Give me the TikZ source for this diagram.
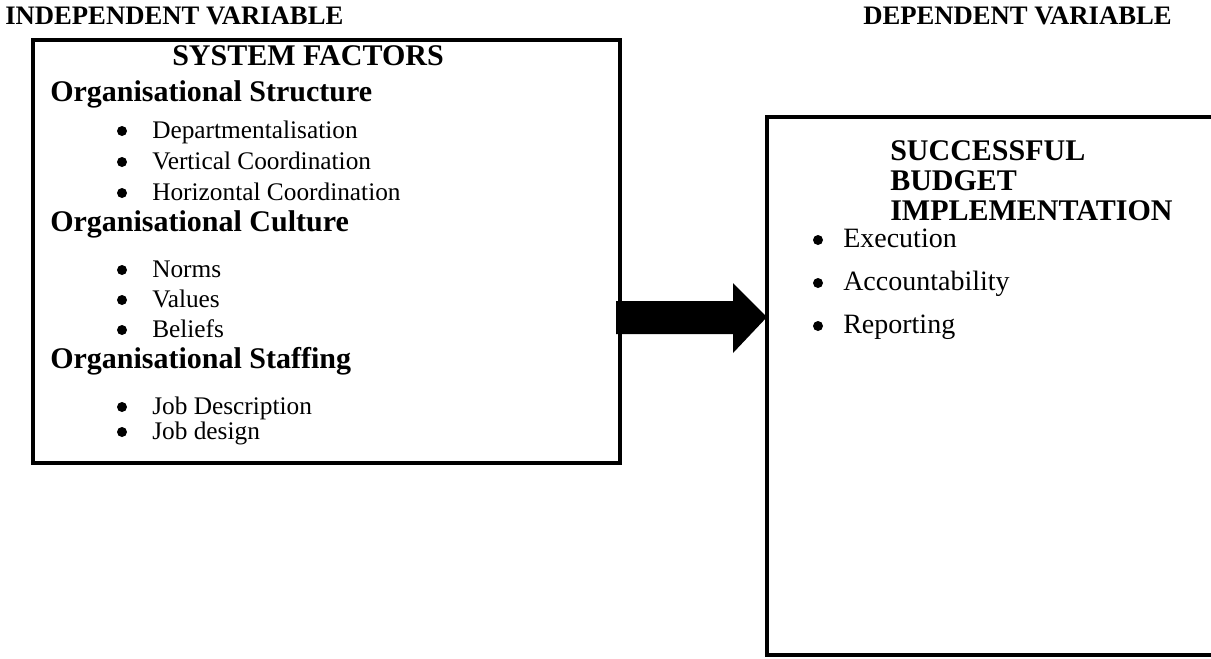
\documentclass[tikz,border=0pt]{standalone}
\usepackage{fontspec}
\setmainfont{Liberation Serif}
\begin{document}
\begin{tikzpicture}[x=0.75pt,y=-0.75pt,
  frame/.style={draw=black,line width=3pt},
  ttl/.style={anchor=base west,inner sep=0pt,font=\fontsize{20}{24}\selectfont\bfseries},
  hdr/.style={anchor=base west,inner sep=0pt,font=\fontsize{22.5}{27}\selectfont\bfseries},
  itm/.style={anchor=base west,inner sep=0pt,font=\fontsize{19}{23}\selectfont},
  itmb/.style={anchor=base west,inner sep=0pt,font=\fontsize{21}{25}\selectfont},
  bul/.style={circle,fill=black,inner sep=0pt,minimum size=7.5pt}]
\useasboundingbox (0,0) rectangle (1211,658);
% titles
\node[ttl] (iv) at (5,24) {INDEPENDENT VARIABLE};
\node[ttl] (dv) at (863,24) {DEPENDENT VARIABLE};
% left box
\draw[frame] (33,40) rectangle (620,463);
\coordinate (lbr) at (616,317);
\node[hdr,anchor=base] (sf) at (308,65) {SYSTEM FACTORS};
\node[hdr] (os) at (50,101) {Organisational Structure};
\node[bul] (b1) at (122,131) {}; \node[itm] (t1) at (152,138) {Departmentalisation};
\node[bul] (b2) at (122,162) {}; \node[itm] (t2) at (152,169) {Vertical Coordination};
\node[bul] (b3) at (122,193) {}; \node[itm] (t3) at (152,200) {Horizontal Coordination};
\node[hdr] (oc) at (50,231) {Organisational Culture};
\node[bul] (b4) at (122,270) {}; \node[itm] (t4) at (152,277) {Norms};
\node[bul] (b5) at (122,300) {}; \node[itm] (t5) at (152,307) {Values};
\node[bul] (b6) at (122,330) {}; \node[itm] (t6) at (152,337) {Beliefs};
\node[hdr] (ost) at (50,368) {Organisational Staffing};
\node[bul] (b7) at (122,407) {}; \node[itm] (t7) at (152,414) {Job Description};
\node[bul] (b8) at (122,432) {}; \node[itm] (t8) at (152,439) {Job design};
% right box
\draw[frame] (1260,117) -- (767,117) -- (767,655) -- (1260,655);
\coordinate (rbl) at (767,317);
\node[hdr] (s1) at (890,160) {SUCCESSFUL};
\node[hdr] (s2) at (890,190) {BUDGET};
\node[hdr] (s3) at (890,220) {IMPLEMENTATION};
\node[bul] (r1) at (818,240) {}; \node[itmb] (u1) at (843,247) {Execution};
\node[bul] (r2) at (818,283) {}; \node[itmb] (u2) at (843,290) {Accountability};
\node[bul] (r3) at (818,326) {}; \node[itmb] (u3) at (843,333) {Reporting};
% arrow
\fill[black] (lbr) ++(0,-16) -- (733,301) -- (733,283) -- (rbl) -- (733,353) -- (733,334) -- (616,334) -- cycle;
\end{tikzpicture}
\end{document}
